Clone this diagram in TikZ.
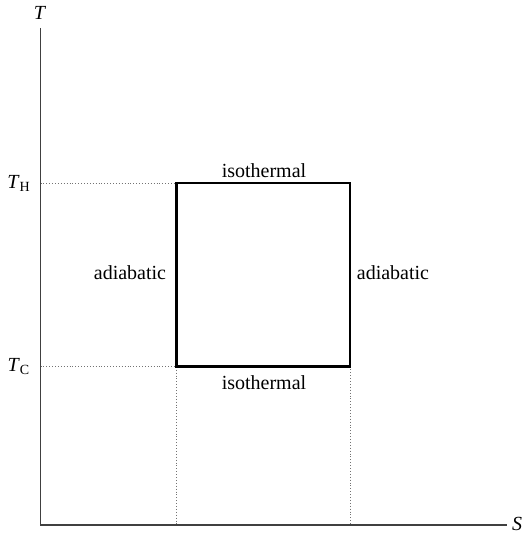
\documentclass[tikz,border=0pt]{standalone}
\usepackage{fontspec}
\setmainfont{Liberation Serif}
\usetikzlibrary{positioning}

\begin{document}
\begin{tikzpicture}[x=0.5pt, y=-0.5pt, every node/.style={font=\normalsize, inner sep=1pt},
	axis/.style={line width=0.9pt, black!75},
	guide/.style={densely dotted, line width=0.45pt, black!55},
	cycle/.style={line width=1.3pt}]
	\useasboundingbox (0,0) rectangle (523,534);
	% axes
	\coordinate (o) at (40.5,525);
	\draw[axis] (40.5,28) -- (o) -- (507,525);
	\node (tlab) at (40,13) {\textit{T}};
	\node (slab) at (517,524) {\textit{S}};
	% cycle corners
	\coordinate (a) at (176.5,366.5);
	\coordinate (b) at (350,366.5);
	\coordinate (c) at (350,183);
	\coordinate (d) at (176.5,183);
	\draw[guide] (40.5,183) -- (d);
	\draw[guide] (40.5,366.5) -- (a) -- (176.5,525);
	\draw[guide] (b) -- (350,525);
	\draw[cycle] (a) -- (b) -- (c) -- (d) -- cycle;
	% labels
	\node (th) at (19,183) {\textit{T}\textsubscript{H}};
	\node (tc) at (19,367) {\textit{T}\textsubscript{C}};
	\node (top) at (264,171) {isothermal};
	\node (bot) at (264,383) {isothermal};
	\node (left) at (130,273) {adiabatic};
	\node (right) at (393,273) {adiabatic};
\end{tikzpicture}
\end{document}
